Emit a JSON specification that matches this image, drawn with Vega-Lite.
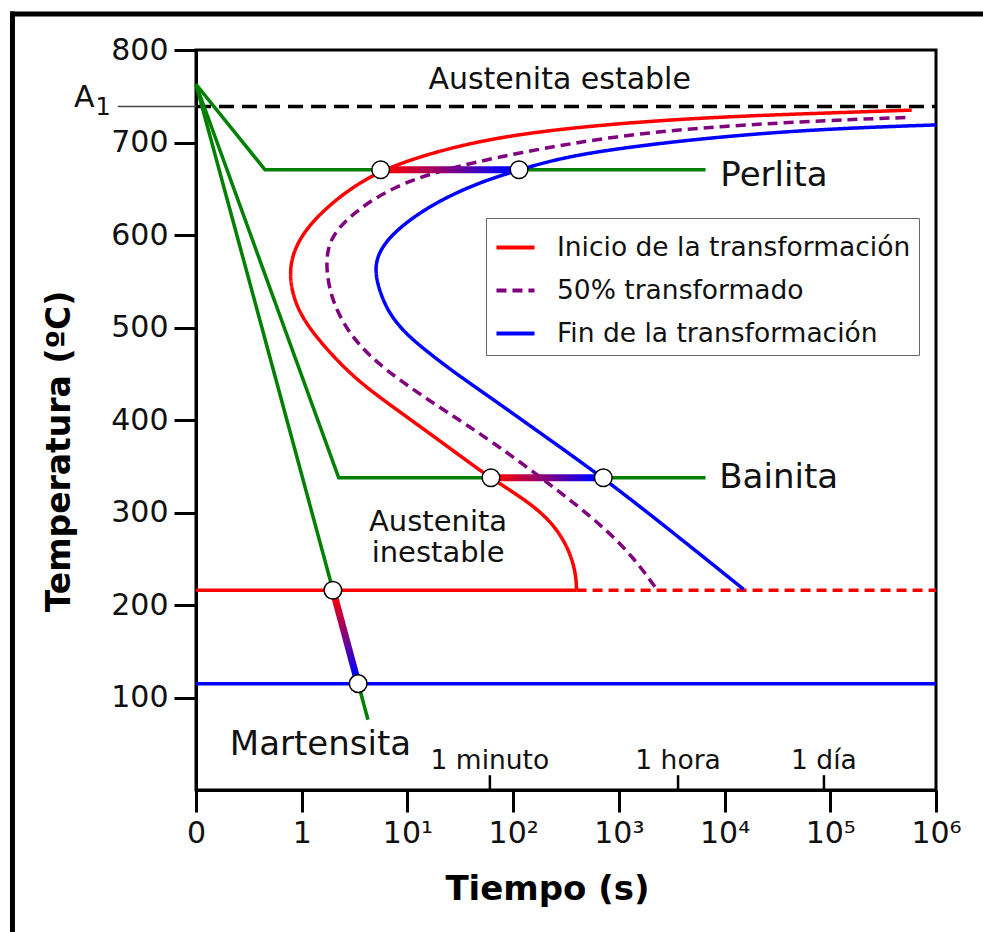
{
  "$schema": "https://vega.github.io/schema/vega-lite/v6.json",
  "width": 740,
  "height": 740,
  "autosize": {"type": "none"},
  "padding": {"left": 196, "top": 50, "right": 47, "bottom": 142},
  "background": "white",
  "config": {
    "font": "DejaVu Sans",
    "view": {"stroke": "#000", "strokeWidth": 3},
    "axis": {
      "grid": false,
      "domainColor": "#000",
      "domainWidth": 3,
      "tickColor": "#000",
      "tickWidth": 3,
      "tickSize": 22,
      "labelFont": "DejaVu Sans",
      "labelFontSize": 30,
      "labelColor": "#111",
      "labelPadding": 6,
      "labelFlush": false,
      "labelOverlap": false,
      "labelBound": false,
      "titleFont": "DejaVu Sans",
      "titleFontSize": 33,
      "titleFontWeight": "bold",
      "titleColor": "#000"
    },
    "legend": {
      "orient": "none",
      "legendX": 290,
      "legendY": 168,
      "strokeColor": "#666",
      "fillColor": "white",
      "padding": 8,
      "labelFont": "DejaVu Sans",
      "labelFontSize": 26.5,
      "labelColor": "#111",
      "labelLimit": 600,
      "labelOffset": 20,
      "symbolType": "stroke",
      "symbolSize": 1450,
      "symbolStrokeWidth": 4,
      "rowPadding": 8
    }
  },
  "datasets": {
    "curves": [
      {"s": "Inicio de la transformación", "o": 1, "u": 6.77, "T": 735},
      {"s": "Inicio de la transformación", "o": 2, "u": 6.0, "T": 732},
      {"s": "Inicio de la transformación", "o": 3, "u": 5.0, "T": 728},
      {"s": "Inicio de la transformación", "o": 4, "u": 4.0, "T": 721},
      {"s": "Inicio de la transformación", "o": 5, "u": 3.0, "T": 709},
      {"s": "Inicio de la transformación", "o": 6, "u": 2.31, "T": 692},
      {"s": "Inicio de la transformación", "o": 7, "u": 1.747, "T": 670.5},
      {"s": "Inicio de la transformación", "o": 8, "u": 1.39, "T": 645},
      {"s": "Inicio de la transformación", "o": 9, "u": 1.107, "T": 616},
      {"s": "Inicio de la transformación", "o": 10, "u": 0.953, "T": 591},
      {"s": "Inicio de la transformación", "o": 11, "u": 0.883, "T": 566},
      {"s": "Inicio de la transformación", "o": 12, "u": 0.905, "T": 537},
      {"s": "Inicio de la transformación", "o": 13, "u": 1.012, "T": 508},
      {"s": "Inicio de la transformación", "o": 14, "u": 1.237, "T": 476},
      {"s": "Inicio de la transformación", "o": 15, "u": 1.52, "T": 443},
      {"s": "Inicio de la transformación", "o": 16, "u": 1.864, "T": 414},
      {"s": "Inicio de la transformación", "o": 17, "u": 2.277, "T": 380},
      {"s": "Inicio de la transformación", "o": 18, "u": 2.656, "T": 348},
      {"s": "Inicio de la transformación", "o": 19, "u": 2.79, "T": 337.5},
      {"s": "Inicio de la transformación", "o": 20, "u": 3.0, "T": 322},
      {"s": "Inicio de la transformación", "o": 21, "u": 3.254, "T": 302},
      {"s": "Inicio de la transformación", "o": 22, "u": 3.444, "T": 278},
      {"s": "Inicio de la transformación", "o": 23, "u": 3.554, "T": 252},
      {"s": "Inicio de la transformación", "o": 24, "u": 3.595, "T": 231},
      {"s": "Inicio de la transformación", "o": 25, "u": 3.6, "T": 216},
      {"s": "50% transformado", "o": 1, "u": 6.71, "T": 727},
      {"s": "50% transformado", "o": 2, "u": 6.0, "T": 724},
      {"s": "50% transformado", "o": 3, "u": 5.0, "T": 718},
      {"s": "50% transformado", "o": 4, "u": 4.0, "T": 708},
      {"s": "50% transformado", "o": 5, "u": 3.0, "T": 688},
      {"s": "50% transformado", "o": 6, "u": 2.308, "T": 670},
      {"s": "50% transformado", "o": 7, "u": 1.864, "T": 652},
      {"s": "50% transformado", "o": 8, "u": 1.52, "T": 627},
      {"s": "50% transformado", "o": 9, "u": 1.296, "T": 602},
      {"s": "50% transformado", "o": 10, "u": 1.236, "T": 580},
      {"s": "50% transformado", "o": 11, "u": 1.236, "T": 559},
      {"s": "50% transformado", "o": 12, "u": 1.284, "T": 530},
      {"s": "50% transformado", "o": 13, "u": 1.426, "T": 497},
      {"s": "50% transformado", "o": 14, "u": 1.646, "T": 468},
      {"s": "50% transformado", "o": 15, "u": 1.961, "T": 440},
      {"s": "50% transformado", "o": 16, "u": 2.34, "T": 411},
      {"s": "50% transformado", "o": 17, "u": 2.813, "T": 376},
      {"s": "50% transformado", "o": 18, "u": 3.378, "T": 328},
      {"s": "50% transformado", "o": 19, "u": 3.822, "T": 288},
      {"s": "50% transformado", "o": 20, "u": 4.137, "T": 252},
      {"s": "50% transformado", "o": 21, "u": 4.358, "T": 217},
      {"s": "Fin de la transformación", "o": 1, "u": 7.0, "T": 719},
      {"s": "Fin de la transformación", "o": 2, "u": 6.0, "T": 715},
      {"s": "Fin de la transformación", "o": 3, "u": 5.0, "T": 707},
      {"s": "Fin de la transformación", "o": 4, "u": 4.0, "T": 694},
      {"s": "Fin de la transformación", "o": 5, "u": 3.44, "T": 683},
      {"s": "Fin de la transformación", "o": 6, "u": 3.056, "T": 670.5},
      {"s": "Fin de la transformación", "o": 7, "u": 2.656, "T": 656},
      {"s": "Fin de la transformación", "o": 8, "u": 2.245, "T": 634},
      {"s": "Fin de la transformación", "o": 9, "u": 1.93, "T": 609},
      {"s": "Fin de la transformación", "o": 10, "u": 1.76, "T": 588},
      {"s": "Fin de la transformación", "o": 11, "u": 1.693, "T": 569},
      {"s": "Fin de la transformación", "o": 12, "u": 1.71, "T": 548},
      {"s": "Fin de la transformación", "o": 13, "u": 1.804, "T": 519},
      {"s": "Fin de la transformación", "o": 14, "u": 1.958, "T": 496},
      {"s": "Fin de la transformación", "o": 15, "u": 2.166, "T": 475.7},
      {"s": "Fin de la transformación", "o": 16, "u": 2.45, "T": 450.8},
      {"s": "Fin de la transformación", "o": 17, "u": 2.812, "T": 422.2},
      {"s": "Fin de la transformación", "o": 18, "u": 3.286, "T": 383.5},
      {"s": "Fin de la transformación", "o": 19, "u": 3.853, "T": 337.5},
      {"s": "Fin de la transformación", "o": 20, "u": 4.5, "T": 279.5},
      {"s": "Fin de la transformación", "o": 21, "u": 5.18, "T": 217}
    ],
    "green": [
      {"g": "Perlita", "o": 1, "u": 0.0, "T": 763},
      {"g": "Perlita", "o": 2, "u": 0.653, "T": 670.5},
      {"g": "Perlita", "o": 3, "u": 4.82, "T": 670.5},
      {"g": "Bainita", "o": 1, "u": 0.0, "T": 763},
      {"g": "Bainita", "o": 2, "u": 1.35, "T": 337.5},
      {"g": "Bainita", "o": 3, "u": 4.82, "T": 337.5},
      {"g": "Martensita", "o": 1, "u": 0.0, "T": 763},
      {"g": "Martensita", "o": 2, "u": 1.627, "T": 76}
    ],
    "circles": [
      {"u": 1.747, "T": 670.5},
      {"u": 3.056, "T": 670.5},
      {"u": 2.79, "T": 337.5},
      {"u": 3.853, "T": 337.5},
      {"u": 1.295, "T": 216},
      {"u": 1.534, "T": 115}
    ]
  },
  "encoding": {
    "x": {
      "field": "u",
      "type": "quantitative",
      "title": "Tiempo (s)",
      "scale": {"domain": [0, 7], "nice": false, "zero": false},
      "axis": {
        "values": [0, 1, 2, 3, 4, 5, 6, 7],
        "labelExpr": "['0','1','10¹','10²','10³','10⁴','10⁵','10⁶'][datum.value]",
        "titlePadding": 24,
        "titleFontSize": 34,
        "titleX": 351
      }
    },
    "y": {
      "field": "T",
      "type": "quantitative",
      "title": "Temperatura (ºC)",
      "scale": {"domain": [0, 800], "nice": false, "zero": false},
      "axis": {
        "values": [100, 200, 300, 400, 500, 600, 700, 800],
        "titlePadding": 34,
        "titleY": 401
      }
    }
  },
  "layer": [
    {
      "data": {"values": [
        {"u": -1.736, "u2": 7.7, "T": 838.9, "T2": 838.9},
        {"u": -1.736, "u2": -1.736, "T": 838.9, "T2": -200}
      ]},
      "mark": {"type": "rule", "color": "#000", "strokeWidth": 5, "strokeCap": "square"},
      "encoding": {"x2": {"field": "u2"}, "y2": {"field": "T2"}}
    },
    {
      "data": {"values": [{"u": -0.74, "u2": 0, "T": 739}]},
      "mark": {"type": "rule", "color": "#444", "strokeWidth": 1.5},
      "encoding": {"x2": {"field": "u2"}}
    },
    {
      "data": {"values": [{"u": 0, "u2": 7, "T": 739}]},
      "mark": {"type": "rule", "color": "#000", "strokeWidth": 3.5, "strokeDash": [15, 8]},
      "encoding": {"x2": {"field": "u2"}}
    },
    {
      "data": {"values": [{"u": 0, "u2": 7, "T": 115}]},
      "mark": {"type": "rule", "color": "#0000ff", "strokeWidth": 3.5},
      "encoding": {"x2": {"field": "u2"}}
    },
    {
      "data": {"values": [{"u": 0, "u2": 3.6, "T": 216}]},
      "mark": {"type": "rule", "color": "#ff0000", "strokeWidth": 3.5},
      "encoding": {"x2": {"field": "u2"}}
    },
    {
      "data": {"values": [{"u": 3.6, "u2": 7, "T": 216}]},
      "mark": {"type": "rule", "color": "#ff0000", "strokeWidth": 3.5, "strokeDash": [10, 6]},
      "encoding": {"x2": {"field": "u2"}}
    },
    {
      "data": {"name": "green"},
      "mark": {"type": "line", "color": "#008000", "strokeWidth": 3.5},
      "encoding": {
        "detail": {"field": "g"},
        "order": {"field": "o", "type": "quantitative"}
      }
    },
    {
      "data": {"name": "curves"},
      "mark": {"type": "line", "strokeWidth": 3.5, "interpolate": "basis"},
      "encoding": {
        "color": {
          "field": "s",
          "type": "nominal",
          "title": null,
          "scale": {
            "domain": ["Inicio de la transformación", "50% transformado", "Fin de la transformación"],
            "range": ["#ff0000", "#800080", "#0000ff"]
          }
        },
        "strokeDash": {
          "field": "s",
          "type": "nominal",
          "title": null,
          "scale": {
            "domain": ["Inicio de la transformación", "50% transformado", "Fin de la transformación"],
            "range": [[1, 0], [10, 6], [1, 0]]
          }
        },
        "order": {"field": "o", "type": "quantitative"}
      }
    },
    {
      "data": {"values": [
        {"seg": "P", "u": 1.747, "T": 670.5},
        {"seg": "P", "u": 3.056, "T": 670.6},
        {"seg": "B", "u": 2.79, "T": 337.5},
        {"seg": "B", "u": 3.853, "T": 337.6}
      ]},
      "mark": {
        "type": "line",
        "strokeWidth": 7,
        "stroke": {
          "gradient": "linear",
          "x1": 0, "y1": 0, "x2": 1, "y2": 0,
          "stops": [
            {"offset": 0.05, "color": "#ff0000"},
            {"offset": 0.5, "color": "#800080"},
            {"offset": 0.9, "color": "#0000ff"}
          ]
        }
      },
      "encoding": {"detail": {"field": "seg"}}
    },
    {
      "data": {"values": [
        {"u": 1.295, "T": 216},
        {"u": 1.534, "T": 115}
      ]},
      "mark": {
        "type": "line",
        "strokeWidth": 7,
        "stroke": {
          "gradient": "linear",
          "x1": 0, "y1": 0, "x2": 0, "y2": 1,
          "stops": [
            {"offset": 0.05, "color": "#ff0000"},
            {"offset": 0.5, "color": "#800080"},
            {"offset": 0.9, "color": "#0000ff"}
          ]
        }
      },
      "encoding": {}
    },
    {
      "data": {"name": "circles"},
      "mark": {"type": "point", "shape": "circle", "filled": true, "fill": "white", "stroke": "#000", "strokeWidth": 1.5, "size": 310, "opacity": 1}
    },
    {
      "data": {"values": [
        {"u": 2.78, "u2": 2.78, "T": 0, "T2": 16},
        {"u": 4.56, "u2": 4.56, "T": 0, "T2": 16},
        {"u": 5.94, "u2": 5.94, "T": 0, "T2": 16}
      ]},
      "mark": {"type": "rule", "color": "#000", "strokeWidth": 2.5},
      "encoding": {"y2": {"field": "T2"}}
    },
    {
      "data": {"values": [
        {"label": "1 minuto", "u": 2.78, "T": 31},
        {"label": "1 hora", "u": 4.56, "T": 31},
        {"label": "1 día", "u": 5.94, "T": 31}
      ]},
      "mark": {"type": "text", "fontSize": 26.5, "align": "center", "baseline": "middle", "color": "#111"},
      "encoding": {"text": {"field": "label"}}
    },
    {
      "data": {"values": [
        {"label": "Perlita", "u": 4.96, "T": 664},
        {"label": "Bainita", "u": 4.95, "T": 337},
        {"label": "Martensita", "u": 0.32, "T": 49}
      ]},
      "mark": {"type": "text", "fontSize": 34, "align": "left", "baseline": "middle", "color": "#111"},
      "encoding": {"text": {"field": "label"}}
    },
    {
      "data": {"values": [
        {"label": "Austenita estable", "u": 3.44, "T": 768}
      ]},
      "mark": {"type": "text", "fontSize": 30, "align": "center", "baseline": "middle", "color": "#111"},
      "encoding": {"text": {"field": "label"}}
    },
    {
      "data": {"values": [
        {"label": "Austenita", "u": 2.29, "T": 289.5},
        {"label": "inestable", "u": 2.29, "T": 256}
      ]},
      "mark": {"type": "text", "fontSize": 29, "align": "center", "baseline": "middle", "color": "#111"},
      "encoding": {"text": {"field": "label"}}
    },
    {
      "data": {"values": [{"label": "A", "u": -0.96, "T": 748}]},
      "mark": {"type": "text", "fontSize": 30, "align": "right", "baseline": "middle", "color": "#111"},
      "encoding": {"text": {"field": "label"}}
    },
    {
      "data": {"values": [{"label": "1", "u": -0.95, "T": 737}]},
      "mark": {"type": "text", "fontSize": 24, "align": "left", "baseline": "middle", "color": "#111"},
      "encoding": {"text": {"field": "label"}}
    }
  ]
}
